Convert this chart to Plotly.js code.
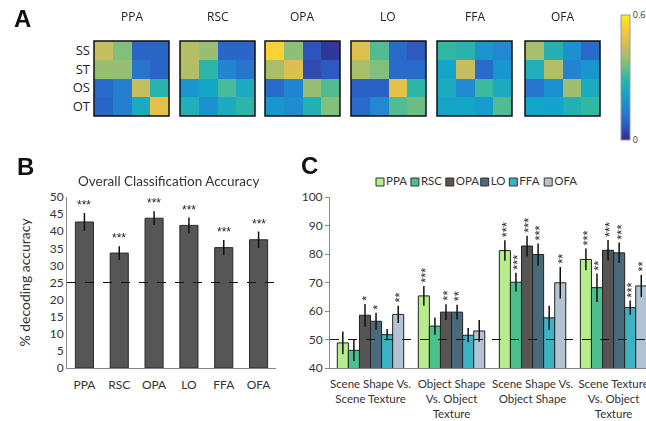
<!DOCTYPE html>
<html><head><meta charset="utf-8">
<script src="https://cdn.plot.ly/plotly-3.0.1.min.js"></script>
<style>html,body{margin:0;padding:0;background:#fff;overflow:hidden}
g.annotation{filter:grayscale(1)}</style>
</head><body><div id="chart" style="width:646px;height:421px"></div>
<script>
// ---------- data ----------
const rois = ['PPA', 'RSC', 'OPA', 'LO', 'FFA', 'OFA'];
const conditions = ['SS', 'ST', 'OS', 'OT'];

// Panel A: confusion matrices (rows = SS, ST, OS, OT)
const ppaMatrix = [[0.44, 0.37, 0.09, 0.09], [0.39, 0.39, 0.12, 0.09], [0.10, 0.14, 0.44, 0.28], [0.09, 0.14, 0.25, 0.49]];
const rscMatrix = [[0.42, 0.39, 0.09, 0.09], [0.42, 0.29, 0.15, 0.12], [0.19, 0.23, 0.32, 0.25], [0.26, 0.18, 0.25, 0.29]];
const opaMatrix = [[0.55, 0.38, 0.06, 0.02], [0.41, 0.47, 0.05, 0.07], [0.10, 0.15, 0.39, 0.33], [0.19, 0.17, 0.27, 0.37]];
const loMatrix  = [[0.48, 0.33, 0.10, 0.07], [0.41, 0.37, 0.10, 0.10], [0.08, 0.08, 0.49, 0.29], [0.10, 0.16, 0.33, 0.35]];
const ffaMatrix = [[0.30, 0.28, 0.19, 0.16], [0.23, 0.44, 0.10, 0.19], [0.25, 0.16, 0.31, 0.25], [0.23, 0.23, 0.21, 0.33]];
const ofaMatrix = [[0.41, 0.27, 0.18, 0.10], [0.26, 0.42, 0.15, 0.19], [0.12, 0.18, 0.40, 0.25], [0.23, 0.22, 0.27, 0.30]];
const matrices = [ppaMatrix, rscMatrix, opaMatrix, loMatrix, ffaMatrix, ofaMatrix];

// Panel B: overall classification accuracy
const overallAcc = [42.7, 33.6, 43.8, 41.7, 35.2, 37.5];
const overallErr = [2.6, 2.0, 2.0, 2.3, 2.2, 2.4];
const overallStars = ['***', '***', '***', '***', '***', '***'];

// Panel C: pairwise decoding
const comparisons = ['Scene Shape Vs.<br>Scene Texture', 'Object Shape<br>Vs. Object<br>Texture', 'Scene Shape Vs.<br>Object Shape', 'Scene Texture<br>Vs. Object<br>Texture'];
const ppaPair = [48.8, 65.3, 81.2, 78.1];
const rscPair = [46.2, 54.7, 70.1, 68.2];
const opaPair = [58.5, 59.6, 82.8, 81.3];
const loPair  = [56.4, 59.6, 79.8, 80.4];
const ffaPair = [51.7, 51.5, 57.6, 61.2];
const ofaPair = [58.8, 53.0, 69.9, 68.8];
const ppaPairErr = [4.0, 3.5, 3.6, 3.8];
const rscPairErr = [3.7, 3.0, 3.3, 5.0];
const opaPairErr = [4.0, 2.8, 3.6, 3.6];
const loPairErr  = [3.0, 2.6, 3.9, 3.6];
const ffaPairErr = [2.0, 2.5, 4.2, 2.5];
const ofaPairErr = [3.0, 3.8, 5.5, 3.9];
const ppaPairStars = ['', '***', '***', '***'];
const rscPairStars = ['', '', '***', '**'];
const opaPairStars = ['*', '**', '***', '***'];
const loPairStars  = ['*', '**', '***', '***'];
const ffaPairStars = ['', '', '', '***'];
const ofaPairStars = ['**', '', '**', '**'];
const pairAcc = [ppaPair, rscPair, opaPair, loPair, ffaPair, ofaPair];
const pairErr = [ppaPairErr, rscPairErr, opaPairErr, loPairErr, ffaPairErr, ofaPairErr];
const pairStars = [ppaPairStars, rscPairStars, opaPairStars, loPairStars, ffaPairStars, ofaPairStars];
const roiColors = ['#b6ec8c', '#4cbf8e', '#575454', '#496a7a', '#3cb3c4', '#b2c3d3'];

// ---------- layout helpers ----------
const W = 646, H = 421;
const px = v => v / W;
const py = v => 1 - v / H;
const parula = [[0, '#34298a'], [0.125, '#2c5ec6'], [0.25, '#2384d2'], [0.375, '#12a5cc'], [0.5, '#30b8a2'], [0.625, '#88c078'], [0.75, '#cfbc5a'], [0.875, '#f7c63a'], [1, '#f7ef1e']];
const heatLeft = [94, 180, 265, 351, 437, 525];
const heatW = 75;
const font = 'Lato, "Open Sans", sans-serif';

const traces = [];
const layout = {
  width: W, height: H, margin: {l: 0, r: 0, t: 0, b: 0},
  paper_bgcolor: '#fff', plot_bgcolor: 'rgba(0,0,0,0)',
  showlegend: false, barmode: 'group', bargap: 0.18, bargroupgap: 0,
  font: {family: font, color: '#333', size: 12},
  annotations: [], shapes: []
};

// Panel A
matrices.forEach((m, i) => {
  const n = i + 1;
  const xa = n === 1 ? 'x' : 'x' + n, ya = n === 1 ? 'y' : 'y' + n;
  traces.push({
    type: 'heatmap', z: m, x: conditions, y: conditions, xaxis: xa, yaxis: ya,
    colorscale: parula, zmin: 0, zmax: 0.6, showscale: i === 0, hoverinfo: 'skip',
    colorbar: {x: px(621), xanchor: 'left', y: py(15), yanchor: 'top', lenmode: 'pixels', len: 125,
      thicknessmode: 'pixels', thickness: 9, xpad: 0, ypad: 0, outlinewidth: 1, outlinecolor: '#999',
      tickvals: [0, 0.6], ticktext: ['0', '0.6'], ticks: '', tickfont: {size: 9, family: 'Open Sans', color: '#333'}}
  });
  const xname = n === 1 ? 'xaxis' : 'xaxis' + n, yname = n === 1 ? 'yaxis' : 'yaxis' + n;
  layout[xname] = {domain: [px(heatLeft[i]), px(heatLeft[i] + heatW)], anchor: ya, showticklabels: false,
    showgrid: false, zeroline: false, ticks: '', type: 'category'};
  layout[yname] = {domain: [py(116), py(41)], anchor: xa, showticklabels: i === 0, autorange: 'reversed',
    showgrid: false, zeroline: false, ticks: '', type: 'category', ticklabelstandoff: 3,
    tickfont: {family: 'Open Sans', size: 13, color: '#222'}};
  layout.shapes.push({type: 'rect', xref: xa + ' domain', yref: ya + ' domain', x0: 0, x1: 1, y0: 0, y1: 1,
    line: {color: '#111', width: 1.5}});
  layout.annotations.push({text: rois[i], xref: xa + ' domain', yref: ya + ' domain', x: 0.5, y: 1,
    xanchor: 'center', yanchor: 'bottom', yshift: 14, showarrow: false,
    font: {family: 'Open Sans', size: 12, color: '#222'}});
});

// Panel B
traces.push({
  type: 'bar', x: rois, y: overallAcc, xaxis: 'x7', yaxis: 'y7', width: 0.52,
  marker: {color: '#565656', line: {color: '#2a2a2a', width: 1}},
  error_y: {type: 'data', array: overallErr, color: '#111', thickness: 1.5, width: 0}, hoverinfo: 'skip'
});
layout.xaxis7 = {domain: [px(67), px(276)], anchor: 'y7', showline: true, linecolor: '#888', ticks: '',
  showgrid: false, zeroline: false, tickfont: {size: 12}, ticklabelstandoff: 6};
layout.yaxis7 = {domain: [py(368), py(197)], anchor: 'x7', range: [0, 50], dtick: 5, showline: true,
  linecolor: '#888', ticks: '', showgrid: false, zeroline: false, tickfont: {size: 12},
  title: {text: '% decoding accuracy', font: {size: 14, color: '#333'}, standoff: 15}};
layout.shapes.push({type: 'line', xref: 'x7 domain', yref: 'y7', x0: 0, x1: 1, y0: 25, y1: 25,
  line: {color: '#111', width: 1.2, dash: 'dash'}});
rois.forEach((r, i) => {
  layout.annotations.push({text: overallStars[i], xref: 'x7', yref: 'y7', x: r, y: overallAcc[i] + overallErr[i],
    xanchor: 'center', yanchor: 'bottom', yshift: -1, showarrow: false,
    font: {family: 'Liberation Sans', size: 12, color: '#222'}});
});
layout.annotations.push({text: 'Overall Classification Accuracy', xref: 'paper', yref: 'paper',
  x: px(168), y: py(181), xanchor: 'center', yanchor: 'middle', showarrow: false, font: {size: 13.5, color: '#333'}});

// Panel C
const groupW = 1 - layout.bargap;
rois.forEach((r, j) => {
  traces.push({
    type: 'bar', name: r, x: comparisons, y: pairAcc[j], xaxis: 'x8', yaxis: 'y8',
    marker: {color: roiColors[j], line: {color: '#222', width: 1}},
    error_y: {type: 'data', array: pairErr[j], color: '#111', thickness: 1.5, width: 0}, hoverinfo: 'skip'
  });
  pairAcc[j].forEach((v, g) => {
    if (!pairStars[j][g]) return;
    layout.annotations.push({text: pairStars[j][g], xref: 'x8', yref: 'y8',
      x: g - groupW / 2 + groupW / 6 * (j + 0.5), y: v + pairErr[j][g], xanchor: 'center', yanchor: 'bottom',
      yshift: 1, xshift: 1.5, textangle: -90, showarrow: false,
      font: {family: 'Liberation Sans', size: 13, color: '#222'}});
  });
});
layout.xaxis8 = {domain: [px(330), 1], anchor: 'y8', range: [-0.5, 3.4], showline: true, linecolor: '#888',
  ticks: '', showgrid: false, zeroline: false, tickfont: {size: 11.5}, type: 'category', tickangle: 0,
  ticklabelstandoff: 5};
layout.yaxis8 = {domain: [py(368), py(197)], anchor: 'x8', range: [40, 100], dtick: 10, showline: true,
  linecolor: '#888', ticks: 'outside', ticklen: 4, tickcolor: '#888', showgrid: false, zeroline: false,
  tickfont: {size: 12}};
layout.shapes.push({type: 'line', xref: 'x8 domain', yref: 'y8', x0: 0, x1: 1, y0: 50, y1: 50,
  line: {color: '#111', width: 1.2, dash: 'dash'}});

// Panel C legend: markers on a hidden pixel-scaled axis, spaced by label length
const legendStart = 380, charW = 6.3, itemPad = 16;
const legendX = rois.map((r, i) => legendStart + rois.slice(0, i).reduce((s, t) => s + t.length * charW + itemPad, 0));
traces.push({
  type: 'scatter', mode: 'markers+text', x: legendX, y: rois.map(() => 0), text: rois,
  textposition: 'middle right', textfont: {size: 11.5, color: '#333'}, xaxis: 'x9', yaxis: 'y9',
  marker: {symbol: 'square', size: 8, color: roiColors, line: {color: '#333', width: 1}},
  cliponaxis: false, hoverinfo: 'skip'
});
layout.xaxis9 = {domain: [px(330), 1], anchor: 'y9', range: [330, 646], visible: false, fixedrange: true};
layout.yaxis9 = {domain: [py(190), py(174)], anchor: 'x9', range: [-1, 1], visible: false, fixedrange: true};

// Panel letters
[['A', 22, 18], ['B', 25, 166], ['C', 309, 165]].forEach(([t, x, y]) => {
  layout.annotations.push({text: '<b>' + t + '</b>', xref: 'paper', yref: 'paper', x: px(x), y: py(y),
    xanchor: 'center', yanchor: 'middle', showarrow: false,
    font: {family: 'Liberation Sans', size: 24, color: '#111'}});
});

Plotly.newPlot('chart', traces, layout, {staticPlot: true, displayModeBar: false});
</script></body></html>
